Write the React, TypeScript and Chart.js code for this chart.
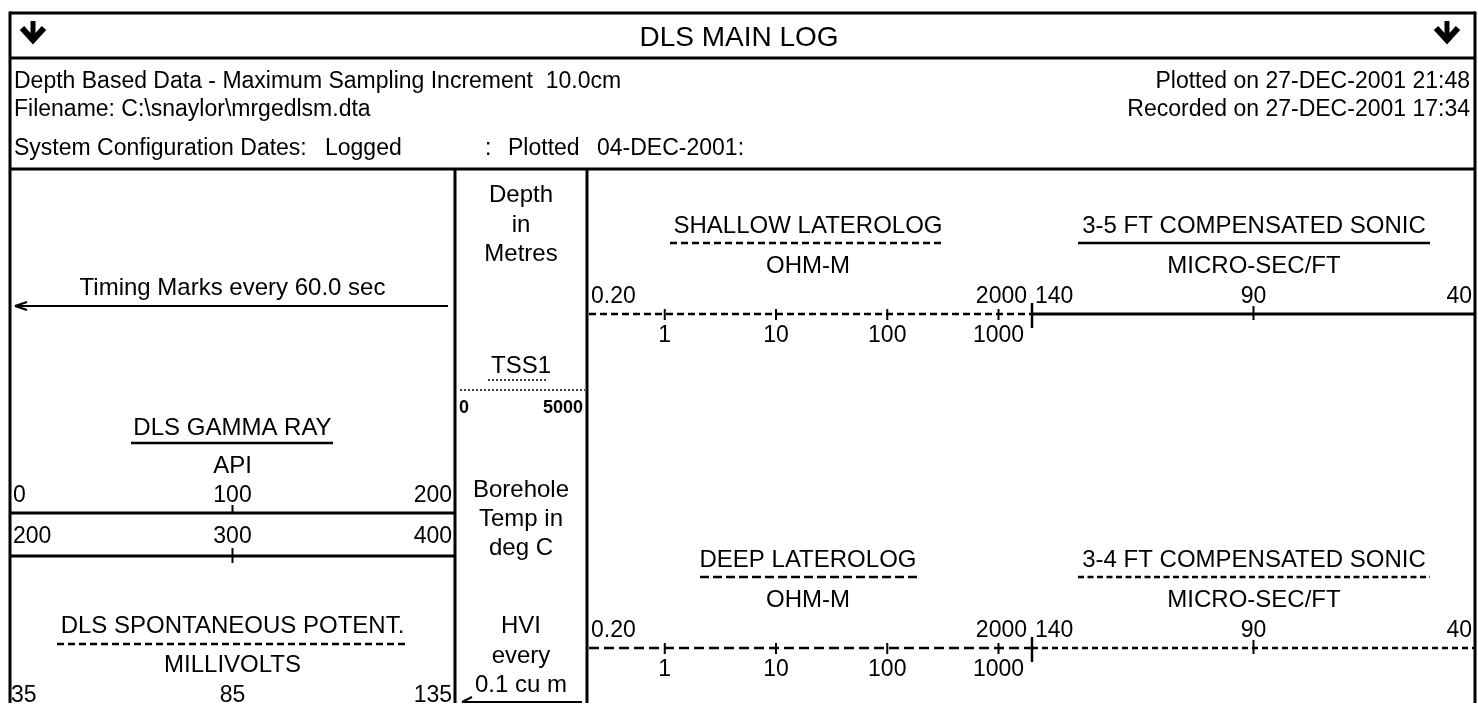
import React, { useEffect, useRef } from "react";
import { Chart, registerables } from "chart.js";

Chart.register(...registerables);

// ---------- data ----------
const titleText = "DLS MAIN LOG";
const headerLeft = [
  "Depth Based Data - Maximum Sampling Increment  10.0cm",
  "Filename: C:\\snaylor\\mrgedlsm.dta",
  "System Configuration Dates:",
];
const headerLogged = "Logged";
const headerRight = ["Plotted on 27-DEC-2001 21:48", "Recorded on 27-DEC-2001 17:34"];
const headerPlottedParts = [":", "Plotted", "04-DEC-2001:"];

const timingText = "Timing Marks every 60.0 sec";
const gammaTitle = "DLS GAMMA RAY";
const gammaUnit = "API";
const gammaTicks = [0, 100, 200];
const gammaBackupTicks = [200, 300, 400];
const spTitle = "DLS SPONTANEOUS POTENT.";
const spUnit = "MILLIVOLTS";
const spTicks = [35, 85, 135];

const depthLabels = ["Depth", "in", "Metres"];
const tensionTitle = "TSS1";
const tensionTicks = [0, 5000];
const tempLabels = ["Borehole", "Temp in", "deg C"];
const hviLabels = ["HVI", "every", "0.1 cu m"];

const shallowTitle = "SHALLOW LATEROLOG";
const deepTitle = "DEEP LATEROLOG";
const resUnit = "OHM-M";
const resEnds = [0.2, 2000];
const resEndLabels = ["0.20", "2000"];
const resTicks = [1, 10, 100, 1000];

const sonic35Title = "3-5 FT COMPENSATED SONIC";
const sonic34Title = "3-4 FT COMPENSATED SONIC";
const sonicUnit = "MICRO-SEC/FT";
const sonicTicks = [140, 90, 40];

// ---------- layout (pixels) ----------
const W = 1478;
const H = 719;
const FONT = "'Liberation Sans', Arial, sans-serif";
const L = {
  frameL: 10, frameR: 1475, frameT: 13, frameB: 703,
  titleLine: 58, headerLine: 169,
  trackGR: [10, 455], trackD: [455, 587], trackRes: [587, 1032], trackSon: [1032, 1475],
};

export default function App() {
  const ref = useRef<HTMLCanvasElement | null>(null);

  useEffect(() => {
    const canvas = ref.current;
    if (!canvas) return;

    const drawPlugin = {
      id: "logHeader",
      afterDraw(chart: any) {
        const ctx: CanvasRenderingContext2D = chart.ctx;
        const sc = chart.scales;
        const at = (id: string, v: number, track: number[]) => {
          const s = sc[id];
          const f = (s.getPixelForValue(v) - s.left) / (s.right - s.left);
          return track[0] + f * (track[1] - track[0]);
        };
        const line = (x1: number, y1: number, x2: number, y2: number, w = 3, dash: number[] = []) => {
          ctx.save();
          ctx.strokeStyle = "#000";
          ctx.lineWidth = w;
          ctx.setLineDash(dash);
          ctx.lineCap = "butt";
          ctx.beginPath();
          ctx.moveTo(x1, y1);
          ctx.lineTo(x2, y2);
          ctx.stroke();
          ctx.restore();
        };
        const text = (s: string, x: number, y: number, size = 24, align: CanvasTextAlign = "center", bold = false) => {
          ctx.save();
          ctx.fillStyle = "#000";
          ctx.font = `${bold ? "bold " : ""}${size}px ${FONT}`;
          ctx.textAlign = align;
          ctx.textBaseline = "alphabetic";
          ctx.fillText(s, x, y);
          ctx.restore();
        };
        const downArrow = (cx: number) => {
          line(cx, 21, cx, 40, 5);
          ctx.save();
          ctx.strokeStyle = "#000";
          ctx.lineWidth = 6;
          ctx.lineJoin = "miter";
          ctx.beginPath();
          ctx.moveTo(cx - 11, 28);
          ctx.lineTo(cx, 40);
          ctx.lineTo(cx + 11, 28);
          ctx.stroke();
          ctx.restore();
        };

        ctx.save();
        ctx.fillStyle = "#fff";
        ctx.fillRect(0, 0, W, H);
        ctx.restore();

        // frame
        line(L.frameL, L.frameT, L.frameR, L.frameT, 3);
        line(L.frameL, L.frameT - 1.5, L.frameL, L.frameB, 3);
        line(L.frameR, L.frameT - 1.5, L.frameR, L.frameB, 3);
        line(L.frameL, L.titleLine, L.frameR, L.titleLine, 3);
        line(L.frameL, L.headerLine, L.frameR, L.headerLine, 3);
        line(L.trackD[0], L.headerLine, L.trackD[0], L.frameB, 3);
        line(L.trackD[1], L.headerLine, L.trackD[1], L.frameB, 3);

        // title bar
        text(titleText, W / 2, 46, 28);
        downArrow(33);
        downArrow(1447);

        // header
        const hy = [88, 116, 155];
        headerLeft.forEach((s, i) => text(s, 14, hy[i], 23, "left"));
        text(headerLogged, 325, hy[2], 23, "left");
        headerRight.forEach((s, i) => text(s, 1470, hy[i], 23, "right"));
        const px = [485, 508, 597];
        headerPlottedParts.forEach((s, i) => text(s, px[i], hy[2], 23, "left"));

        // ---- gamma / SP track ----
        const gr = L.trackGR;
        const gc = (gr[0] + gr[1]) / 2;
        text(timingText, gc, 295, 24);
        line(15, 306, 448, 306, 2);
        line(15, 306, 27, 302, 2);
        line(15, 306, 27, 310, 2);

        text(gammaTitle, gc, 435, 24);
        line(131, 443, 333, 443, 2.5);
        text(gammaUnit, gc, 473, 24);
        const gx = gammaTicks.map((v) => at("gr", v, gr));
        text(String(gammaTicks[0]), gx[0] + 3, 502, 23, "left");
        text(String(gammaTicks[1]), gx[1], 502, 23, "center");
        text(String(gammaTicks[2]), gx[2] - 3, 502, 23, "right");
        line(gr[0], 513, gr[1], 513, 3);
        line(gx[1], 505, gx[1], 513, 2);

        const bx = gammaBackupTicks.map((v) => at("grb", v, gr));
        text(String(gammaBackupTicks[0]), bx[0] + 3, 543, 23, "left");
        text(String(gammaBackupTicks[1]), bx[1], 543, 23, "center");
        text(String(gammaBackupTicks[2]), bx[2] - 3, 543, 23, "right");
        line(gr[0], 556, gr[1], 556, 3);
        line(bx[1], 548, bx[1], 563, 2);

        text(spTitle, gc, 633, 24);
        line(57, 644, 408, 644, 2.5, [7, 4]);
        text(spUnit, gc, 672, 24);
        const sx = spTicks.map((v) => at("sp", v, gr));
        text(String(spTicks[0]), sx[0] + 1, 702, 23, "left");
        text(String(spTicks[1]), sx[1], 702, 23, "center");
        text(String(spTicks[2]), sx[2] - 3, 702, 23, "right");

        // ---- depth track ----
        const dc = (L.trackD[0] + L.trackD[1]) / 2;
        depthLabels.forEach((s, i) => text(s, dc, 202 + i * 29.5, 24));
        text(tensionTitle, dc, 373, 24);
        line(488, 380, 548, 380, 1.5, [2, 2]);
        line(460, 390, 585, 390, 1.5, [2, 2]);
        const tx = tensionTicks.map((v) => at("tss", v, [459, 583]));
        text(String(tensionTicks[0]), tx[0], 413, 18, "left", true);
        text(String(tensionTicks[1]), tx[1], 413, 18, "right", true);
        tempLabels.forEach((s, i) => text(s, dc, 497 + i * 29, 24));
        hviLabels.forEach((s, i) => text(s, dc, 633 + i * 29.5, 24));
        line(462, 702, 582, 702, 2);
        line(462, 702, 472, 697, 2);

        // ---- resistivity & sonic ----
        const rs = L.trackRes;
        const ss = L.trackSon;
        const rc = 808;
        const scc = 1254;
        const rows = [
          { y: 0, title: shallowTitle, uDash: [7, 4], u: [670, 942], lineDash: [7, 4], sonTitle: sonic35Title, sonDash: [] as number[], sonU: [] as number[] },
          { y: 334, title: deepTitle, uDash: [9, 4], u: [700, 918], lineDash: [10, 5], sonTitle: sonic34Title, sonDash: [6, 4], sonU: [6, 3.5] },
        ];
        rows.forEach((r) => {
          const o = r.y;
          text(r.title, rc, 233 + o, 24);
          line(r.u[0], 243 + o, r.u[1], 243 + o, 2.5, r.uDash);
          text(resUnit, rc, 273 + o, 24);
          const e0 = at("res", resEnds[0], rs);
          const e1 = at("res", resEnds[1], rs);
          text(resEndLabels[0], e0 + 4, 303 + o, 23, "left");
          text(resEndLabels[1], e1 - 5, 303 + o, 23, "right");
          line(e0 + 2, 314 + o, e1, 314 + o, 2.5, r.lineDash);
          resTicks.forEach((v) => {
            const x = at("res", v, rs);
            line(x, 309 + o, x, 320 + o, 2);
            text(String(v), x, 342 + o, 23, "center");
          });

          text(r.sonTitle, scc, 233 + o, 24);
          line(1078, 243 + o, 1430, 243 + o, 2.5, r.sonU);
          text(sonicUnit, scc, 273 + o, 24);
          const kx = sonicTicks.map((v) => at("son", v, ss));
          text(String(sonicTicks[0]), kx[0] + 3, 303 + o, 23, "left");
          text(String(sonicTicks[1]), kx[1], 303 + o, 23, "center");
          text(String(sonicTicks[2]), kx[2] - 3, 303 + o, 23, "right");
          line(kx[0], 314 + o, kx[2], 314 + o, r.sonDash.length ? 2.5 : 3, r.sonDash);
          line(kx[0], 303 + o, kx[0], 328 + o, 2.5);
          line(kx[1], 306 + o, kx[1], 320 + o, 2);
        });
      },
    };

    const chart = new Chart(canvas, {
      type: "scatter",
      data: { datasets: [] },
      options: {
        animation: false,
        responsive: false,
        devicePixelRatio: 1,
        layout: { padding: 0 },
        plugins: { legend: { display: false }, tooltip: { enabled: false } },
        scales: {
          x: { type: "linear", min: 0, max: W, display: false },
          y: { type: "linear", min: 0, max: H, reverse: true, display: false },
          res: { type: "logarithmic", axis: "x", min: resEnds[0], max: resEnds[1], display: false },
          son: { type: "linear", axis: "x", min: sonicTicks[2], max: sonicTicks[0], reverse: true, display: false },
          gr: { type: "linear", axis: "x", min: gammaTicks[0], max: gammaTicks[2], display: false },
          grb: { type: "linear", axis: "x", min: gammaBackupTicks[0], max: gammaBackupTicks[2], display: false },
          sp: { type: "linear", axis: "x", min: spTicks[0], max: spTicks[2], display: false },
          tss: { type: "linear", axis: "x", min: tensionTicks[0], max: tensionTicks[1], display: false },
        },
      } as any,
      plugins: [drawPlugin],
    });
    return () => chart.destroy();
  }, []);

  return (
    <div style={{ position: "fixed", left: 0, top: 0, width: W, height: H, background: "#fff" }}>
      <canvas ref={ref} width={W} height={H} style={{ display: "block", width: W, height: H }} />
    </div>
  );
}
